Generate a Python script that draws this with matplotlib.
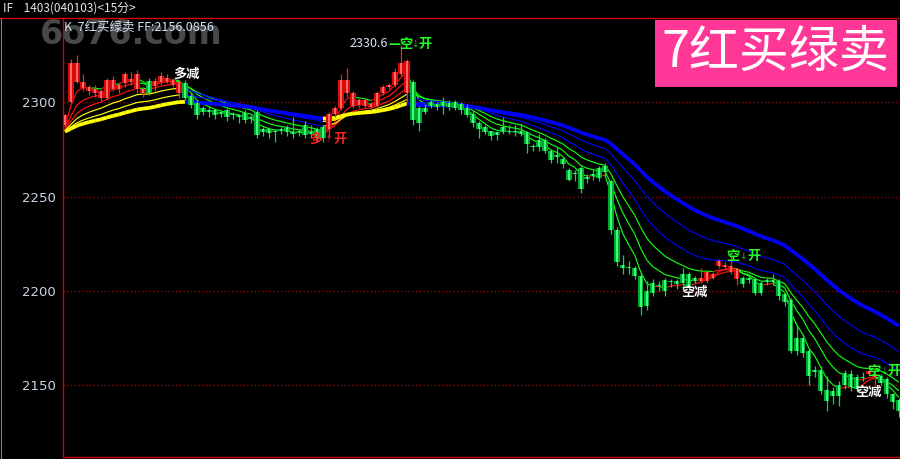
import numpy as np
import pandas as pd
import matplotlib
matplotlib.use('Agg')
import matplotlib.pyplot as plt
from matplotlib.collections import LineCollection
from matplotlib.patches import Rectangle

plt.rcParams['font.family'] = ['Noto Sans CJK SC', 'DejaVu Sans']

# 15-minute bars, IF1403
opens = [2288, 2300, 2311, 2307.5, 2306, 2305, 2302, 2302, 2307, 2307,
         2310, 2311, 2307, 2305, 2311.5, 2308.5, 2310.5, 2311, 2309, 2305,
         2310, 2303.5, 2299.5, 2297, 2296, 2296, 2295, 2296, 2294, 2293,
         2294.5, 2292, 2295, 2286, 2286, 2285, 2286, 2287, 2284, 2285,
         2288, 2284, 2286, 2287, 2286, 2294, 2297, 2305, 2298, 2298.5,
         2298, 2297.5, 2298, 2305, 2308, 2309, 2315, 2305, 2310.5, 2297,
         2297, 2300, 2299, 2300, 2299.5, 2300, 2299, 2297, 2294, 2289,
         2287, 2284.5, 2284, 2287, 2285, 2285, 2285, 2284, 2277, 2280,
         2280, 2274, 2272, 2270, 2264, 2262.5, 2265, 2260.5, 2262, 2265,
         2266, 2258, 2232, 2213.5, 2212.5, 2212, 2208, 2200, 2204, 2203,
         2205.5, 2205, 2205, 2209, 2209, 2207, 2205, 2205, 2207, 2213,
         2212.5, 2210, 2206, 2207, 2206.5, 2206, 2204, 2205.5, 2205.5, 2205,
         2198.5, 2195, 2175, 2175, 2168, 2158, 2158, 2147.5, 2147, 2150,
         2156.5, 2156, 2154, 2154.5, 2156, 2154.5, 2155, 2153, 2145, 2142]
closes = [2293, 2321, 2321, 2311, 2308, 2307, 2306, 2312, 2312, 2309,
          2315, 2312.5, 2315, 2307, 2305, 2311.5, 2314, 2313, 2312, 2311,
          2302, 2298.5, 2293, 2295, 2295, 2293, 2294, 2292, 2293, 2292,
          2290.5, 2291, 2282.5, 2284, 2283.5, 2284, 2285, 2284, 2283, 2284,
          2282.5, 2283, 2281, 2281, 2294, 2297, 2311.7, 2311.7, 2305, 2301,
          2301, 2299, 2305, 2308, 2309, 2316, 2321, 2322, 2290.5, 2289,
          2295, 2298, 2297.5, 2298, 2297.5, 2297, 2296, 2293, 2289, 2286,
          2284, 2282, 2282.5, 2284, 2284, 2284, 2283, 2278, 2276, 2276,
          2274, 2269.5, 2271, 2267, 2259, 2262, 2254, 2259.5, 2261, 2260,
          2263, 2232, 2215, 2212, 2212, 2208, 2191.5, 2192, 2199, 2202.5,
          2200, 2204.5, 2203.5, 2204, 2202, 2205, 2207, 2210, 2209, 2216,
          2213.5, 2213, 2211.6, 2203.7, 2205.5, 2199, 2199, 2204.5, 2204.5, 2197,
          2194, 2168, 2168, 2167, 2155, 2157, 2147, 2141.5, 2144, 2144,
          2150, 2149, 2148, 2153.5, 2157.5, 2156, 2151, 2145, 2141, 2136]
highs = [2294, 2323, 2325, 2315, 2309, 2309, 2307, 2313, 2314, 2311,
         2316, 2316, 2317, 2308, 2313, 2313, 2316, 2315, 2313, 2312,
         2312, 2305, 2301, 2298, 2298, 2297, 2296, 2297, 2295, 2294,
         2296, 2293, 2296, 2287, 2287, 2286, 2287, 2288, 2292, 2286,
         2290, 2288, 2287, 2288, 2295, 2298, 2315, 2318, 2306, 2302,
         2302, 2300, 2306, 2309, 2310, 2318, 2330.6, 2323, 2312, 2298,
         2299, 2301, 2300, 2303, 2301, 2301, 2300, 2299, 2296, 2290,
         2288, 2285, 2285, 2292, 2288, 2288, 2289, 2285, 2278, 2283,
         2281, 2275, 2276, 2271, 2265, 2264, 2266, 2262, 2264, 2266,
         2268, 2259, 2234, 2219, 2216, 2213, 2210, 2205, 2206, 2205,
         2207, 2206, 2206, 2212, 2210, 2208, 2212, 2211, 2210, 2217,
         2215, 2219, 2212, 2208, 2208, 2207, 2205, 2207, 2209, 2206,
         2199, 2196, 2182, 2177, 2169, 2160, 2160, 2155, 2149, 2152,
         2158, 2158, 2156, 2157, 2158, 2157, 2156, 2154, 2146, 2143]
lows = [2286, 2299, 2310, 2306, 2304, 2303, 2300, 2301, 2306, 2305,
        2308, 2309, 2305, 2303, 2304, 2306, 2309, 2310, 2308, 2302,
        2301, 2297, 2291, 2293, 2292, 2291, 2292, 2290, 2291, 2289,
        2289, 2289, 2281, 2282, 2281, 2279, 2283, 2282, 2281, 2282,
        2281, 2281, 2279, 2279, 2281, 2292, 2296, 2303, 2297, 2297,
        2297, 2296, 2297, 2304, 2307, 2308, 2314, 2300, 2288, 2285,
        2294, 2297, 2296, 2294, 2296, 2296, 2294, 2292, 2287, 2281,
        2283, 2280, 2280, 2283, 2283, 2282, 2282, 2273, 2274, 2274,
        2273, 2268, 2268, 2265, 2258, 2258, 2252, 2257, 2259, 2258,
        2261, 2230, 2213, 2209, 2209, 2206, 2187, 2190, 2197, 2200,
        2197, 2202, 2201, 2203, 2200, 2204, 2204, 2204, 2206, 2212,
        2211, 2209, 2203, 2202, 2204, 2198, 2198, 2203, 2203, 2195,
        2192, 2167, 2166, 2165, 2150, 2154, 2145, 2136, 2140, 2139,
        2148, 2147, 2147, 2152, 2155, 2150, 2150, 2143, 2137, 2133]

ma_seed = 2284          # level the averages start from at the left edge
ma_spans = [5, 9, 14, 20, 30, 44]
y_ticks = [2150, 2200, 2250, 2300]

BG = 'black'
fig = plt.figure(figsize=(9, 4.59), dpi=100, facecolor=BG)
ax = fig.add_axes([63 / 900, 2 / 459, 837 / 900, 439 / 459], facecolor=BG)

n = len(closes)
x = np.arange(n)
o = np.array(opens); c = np.array(closes)
h = np.array(highs); l = np.array(lows)
up = c >= o

# grid lines at price levels
for v in y_ticks:
    ax.axhline(v, color='#b00000', lw=0.9, ls=(0, (1, 2)), zorder=1)

# moving averages, coloured by slope
s = pd.Series([ma_seed] + closes)
for k, span in enumerate(ma_spans):
    ma = s.ewm(span=span, adjust=False).mean().values[1:]
    pts = np.column_stack([x, ma])
    segs = np.stack([pts[:-1], pts[1:]], axis=1)
    rising = ma[1:] >= ma[:-1]
    if k < 3:
        cols = np.where(rising, '#ff1010', '#10ff10')
    else:
        cols = np.where(rising, '#ffff00', '#0000ff')
    lw = 2.7 if k == 5 else 0.85
    ax.add_collection(LineCollection(segs, colors=cols, linewidths=lw,
                                     zorder=3 + k * 0.1))

# candles
wick_col = np.where(up, '#ff2020', '#00e040')
ax.vlines(x, l, h, colors=wick_col, lw=0.9, zorder=4)
bot = np.minimum(o, c)
hgt = np.maximum(np.abs(c - o), 0.6)
for i in range(n):
    outer, inner = ('#d80a0a', '#ff6666') if up[i] else ('#00a832', '#3cff74')
    ax.add_patch(Rectangle((x[i] - 0.44, bot[i]), 0.88, hgt[i],
                           facecolor=outer, edgecolor='none', zorder=5))
    ax.add_patch(Rectangle((x[i] - 0.15, bot[i]), 0.3, hgt[i],
                           facecolor=inner, edgecolor='none', zorder=5))

ax.set_xlim(-0.33, 139.2)
ax.set_ylim(2111.8, 2344.7)
ax.set_xticks([])
ax.set_yticks(y_ticks)
ax.set_yticklabels([str(v) for v in y_ticks], color='#c8d4e4',
                   fontsize=9.5, family=['DejaVu Sans'])
ax.tick_params(axis='y', length=0, pad=5)
ax.spines['right'].set_visible(False)
ax.spines['top'].set_visible(False)
ax.spines['left'].set_color('#d00000')
ax.spines['bottom'].set_color('#d00000')
ax.spines['left'].set_linewidth(1.0)
ax.spines['bottom'].set_linewidth(1.0)

# signal labels
lab = dict(fontsize=9.5, fontweight='bold', va='center', zorder=8)
arw = dict(fontsize=5.5, ha='center', va='center', zorder=8)
ax.text(18.0, 2315, '多减', color='white', ha='left', **lab)
ax.text(40.8, 2280.5, '多', color='#ff2020', ha='left', **lab)
ax.text(44.0, 2280.5, '↑', color='#ff2020', **arw)
ax.text(44.7, 2280.5, '开', color='#ff2020', ha='left', **lab)
ax.text(47.5, 2331, '2330.6', color='#d8e6f6', ha='left', fontsize=9, va='center', zorder=8)
ax.text(53.9, 2331, '—空', color='#20ff20', ha='left', **lab)
ax.text(58.4, 2331, '↓', color='#20ff20', **arw)
ax.text(59.0, 2331, '开', color='#20ff20', ha='left', **lab)
ax.text(102.8, 2199.3, '空减', color='white', ha='left', **lab)
ax.text(110.3, 2218.4, '空', color='#20ff20', ha='left', **lab)
ax.text(113.1, 2218.4, '↓', color='#20ff20', **arw)
ax.text(113.8, 2218.4, '开', color='#20ff20', ha='left', **lab)
ax.text(131.8, 2146.4, '空减', color='white', ha='left', **lab)
ax.text(133.8, 2157.5, '空', color='#20ff20', ha='left', **lab)
ax.text(136.6, 2157.5, '↓', color='#20ff20', **arw)
ax.text(137.1, 2157.5, '开', color='#20ff20', ha='left', **lab)

# header area
fig.add_artist(plt.Line2D([0, 1], [1 - 18 / 459] * 2, color='#d00000', lw=1.0))
fig.add_artist(plt.Line2D([0.5 / 900] * 2, [0, 1 - 18 / 459], color='#808080', lw=0.8))
fig.text(40 / 900, 1 - 35 / 459, '6o76.com', color='#484848', fontsize=24,
         fontweight='bold', family=['DejaVu Sans'], va='center', ha='left', zorder=0)
fig.text(3 / 900, 1 - 8 / 459, 'IF    1403(040103)<15分>', color='#e6e6e6',
         fontsize=8.5, va='center', ha='left')
fig.text(64 / 900, 1 - 27 / 459, 'K  7红买绿卖 FF:2156.0856', color='#d2e2f6',
         fontsize=9, va='center', ha='left')
fig.add_artist(Rectangle((655 / 900, 1 - 87 / 459), 242 / 900, 67 / 459,
                         transform=fig.transFigure, facecolor='#ff3796',
                         edgecolor='none', zorder=9))
fig.text(775 / 900, 1 - 53 / 459, '7红买绿卖', color='white', fontsize=36,
         va='center', ha='center', zorder=10)

fig.savefig('out.png', dpi=100, facecolor=BG)
